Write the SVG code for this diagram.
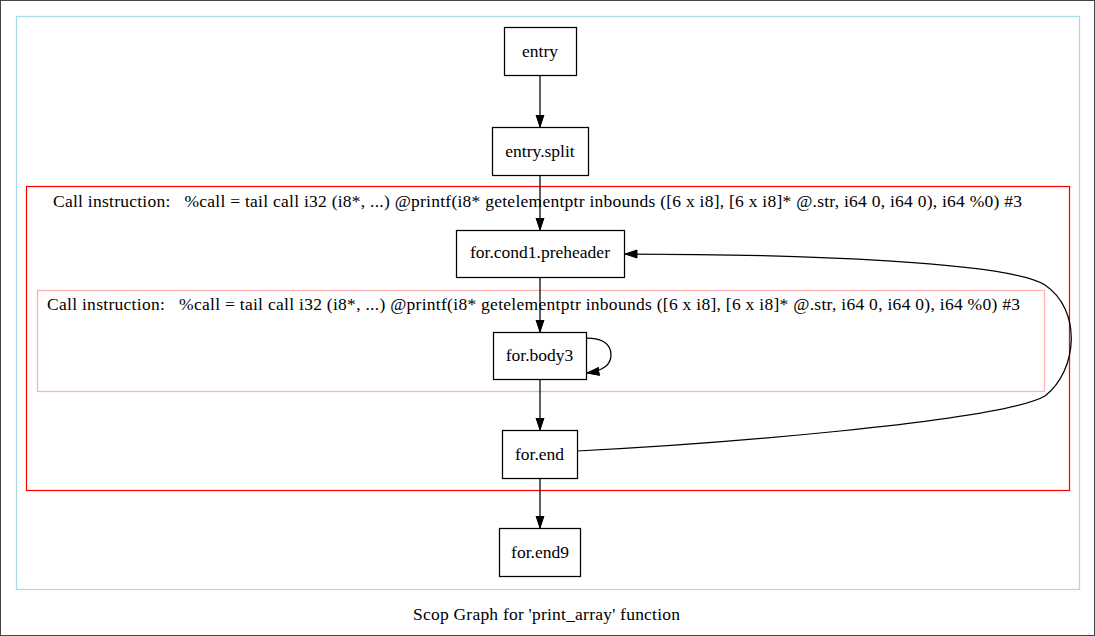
<svg xmlns="http://www.w3.org/2000/svg" width="1095" height="636" viewBox="0 0 1095 636">
<style>
text{font-family:"Liberation Serif","Times New Roman",serif;font-size:17.5px;fill:#000}
.node rect{fill:#fff;stroke:#000;stroke-width:1.25}
.edge{fill:none;stroke:#000;stroke-width:1.25}
.cl{fill:none;stroke-width:1.25}
</style>
<defs>
<marker id="arr" markerUnits="userSpaceOnUse" markerWidth="14" markerHeight="11" refX="12.5" refY="4.5" orient="auto">
<path d="M0.5,0.5 L12.5,4.5 L0.5,8.5 Z" fill="#000" stroke="#000" stroke-width="1"/>
</marker>
</defs>
<rect x="0.5" y="0.5" width="1094" height="635" fill="#fff" stroke="#444"/>
<g id="clusters">
<rect class="cl" x="16.5" y="16.5" width="1063" height="573" stroke="#add8e6"/>
<rect class="cl" x="26.5" y="186.5" width="1043" height="304" stroke="#ff0000"/>
<text x="53" y="207" textLength="969" lengthAdjust="spacing" xml:space="preserve">Call instruction:   %call = tail call i32 (i8*, ...) @printf(i8* getelementptr inbounds ([6 x i8], [6 x i8]* @.str, i64 0, i64 0), i64 %0) #3</text>
<rect class="cl" x="37.5" y="290.5" width="1007" height="101" stroke="#ffb0b0"/>
<text x="47" y="310" textLength="973" lengthAdjust="spacing" xml:space="preserve">Call instruction:   %call = tail call i32 (i8*, ...) @printf(i8* getelementptr inbounds ([6 x i8], [6 x i8]* @.str, i64 0, i64 0), i64 %0) #3</text>
</g>
<g id="connectors">
<path class="edge" d="M540,75 L540,127" marker-end="url(#arr)"/>
<path class="edge" d="M540,175 L540,230" marker-end="url(#arr)"/>
<path class="edge" d="M540,277 L540,332" marker-end="url(#arr)"/>
<path class="edge" d="M540,379 L540,430" marker-end="url(#arr)"/>
<path class="edge" d="M540,478 L540,528" marker-end="url(#arr)"/>
<path class="edge" d="M586,338 C601,338 611,343 611,355 C611,366 602,371 587,373" marker-end="url(#arr)"/>
<path class="edge" d="M577,451 C700,445 1000,422 1045,396 C1078,370 1082,310 1045,285 C1010,262 800,254 625,254" marker-end="url(#arr)"/>
</g>
<g id="entry" class="node"><rect x="504.5" y="27.5" width="72" height="48"/><text x="540" y="57" text-anchor="middle">entry</text></g>
<g id="entry_split" class="node"><rect x="492.5" y="127.5" width="96" height="48"/><text x="540" y="157" text-anchor="middle">entry.split</text></g>
<g id="for_cond1_preheader" class="node"><rect x="456.5" y="230.5" width="168" height="47"/><text x="540" y="258" text-anchor="middle">for.cond1.preheader</text></g>
<g id="for_body3" class="node"><rect x="493.5" y="332.5" width="93" height="47"/><text x="539.5" y="361" text-anchor="middle">for.body3</text></g>
<g id="for_end" class="node"><rect x="502.5" y="430.5" width="75" height="48"/><text x="539.5" y="460" text-anchor="middle">for.end</text></g>
<g id="for_end9" class="node"><rect x="499.5" y="528.5" width="81" height="48"/><text x="540" y="558" text-anchor="middle">for.end9</text></g>
<text x="546.5" y="620" text-anchor="middle" textLength="267" lengthAdjust="spacing">Scop Graph for 'print_array' function</text>
</svg>
